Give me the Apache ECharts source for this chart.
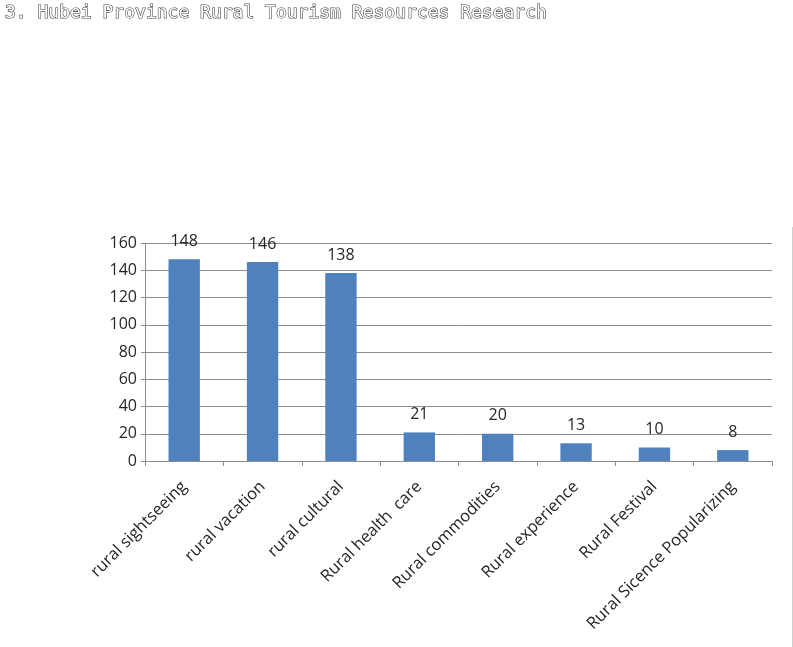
<!DOCTYPE html>
<html>
<head>
<meta charset="utf-8">
<script src="https://cdn.jsdelivr.net/npm/echarts@6/dist/echarts.min.js"></script>
<style>
html,body{margin:0;padding:0;background:#fff;}
#chart{width:793px;height:647px;}
</style>
</head>
<body>
<div id="chart"></div>
<script>
const titleText = "3. Hubei Province Rural Tourism Resources Research";
const categories = ["rural sightseeing","rural vacation","rural cultural","Rural health  care","Rural commodities","Rural experience","Rural Festival","Rural Sicence Popularizing"];
const values = [148,146,138,21,20,13,10,8];
const yTicks = {min:0,max:160,interval:20};

const chart = echarts.init(document.getElementById('chart'), null, {renderer:'canvas'});
chart.setOption({
  animation:false,
  backgroundColor:'#fff',
  title:{
    text:titleText,
    left:0, top:-1,
    textStyle:{
      fontFamily:'DejaVu Sans Mono',
      fontSize:18,
      fontWeight:'normal',
      color:'#ffffff',
      textBorderColor:'#444444',
      textBorderWidth:1.2
    }
  },
  grid:{left:145,right:21,top:243,bottom:186,containLabel:false},
  xAxis:{
    type:'category',
    data:categories,
    boundaryGap:true,
    axisLine:{lineStyle:{color:'#8c8c8c',width:1}},
    axisTick:{show:true,alignWithLabel:false,length:5,lineStyle:{color:'#8c8c8c'}},
    axisLabel:{
      rotate:45,
      interval:0,
      margin:23,
      fontFamily:'Open Sans',
      fontSize:16.5,
      color:'#262626'
    }
  },
  yAxis:{
    type:'value',
    min:yTicks.min,max:yTicks.max,interval:yTicks.interval,
    axisLine:{show:true,lineStyle:{color:'#8c8c8c',width:1}},
    axisTick:{show:true,length:4,lineStyle:{color:'#8c8c8c'}},
    axisLabel:{fontFamily:'Open Sans',fontSize:16,color:'#262626',margin:8},
    splitLine:{show:true,lineStyle:{color:'#8c8c8c',width:1}}
  },
  series:[{
    type:'bar',
    data:values,
    barWidth:'40%',
    itemStyle:{color:'#4F81BD'},
    label:{
      show:true,
      position:'top',
      distance:10,
      fontFamily:'Open Sans',
      fontSize:16,
      color:'#262626'
    }
  }],
  graphic:[{
    type:'line',
    shape:{x1:792.5,y1:227,x2:792.5,y2:647},
    style:{stroke:'#cfcfcf',lineWidth:1}
  }]
});
</script>
</body>
</html>
